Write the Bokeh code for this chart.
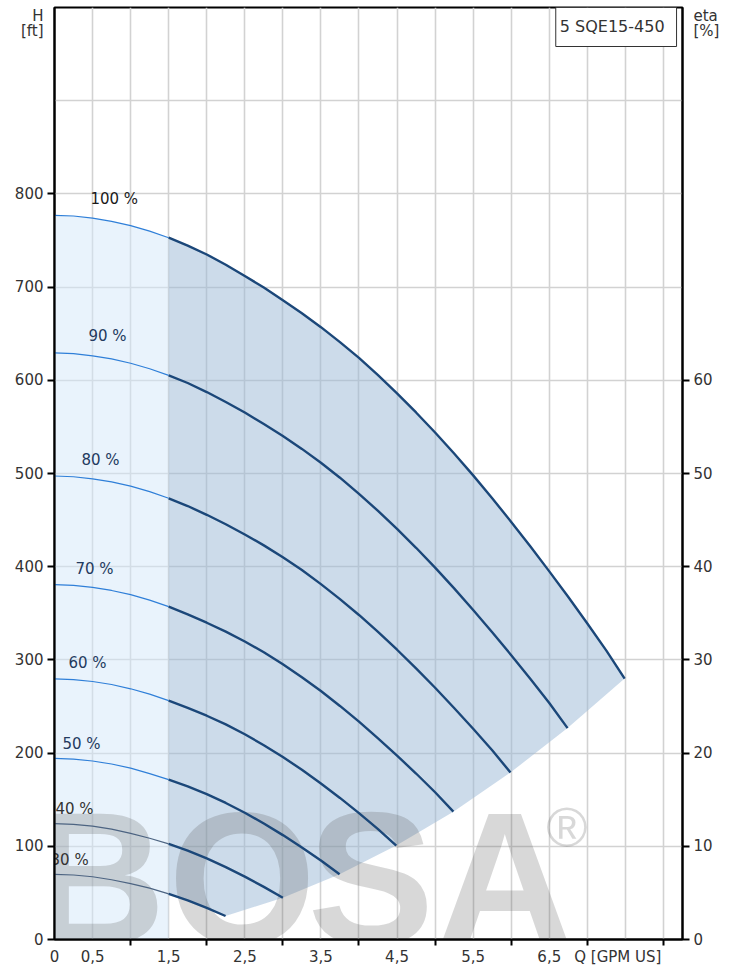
import numpy as np
from bokeh.plotting import figure
from bokeh.models import Range1d, LinearAxis, FixedTicker, Label, ColumnDataSource
from bokeh.core.properties import value
from bokeh.embed import file_html
from bokeh.resources import INLINE

FONT = "DejaVu Sans"

# ---- data (Q in GPM US, H in ft) ----
speeds = ["100 %", "90 %", "80 %", "70 %", "60 %", "50 %", "40 %", "30 %"]
q100 = [0, 0.25, 0.5, 0.75, 1.0, 1.25, 1.5, 1.75, 2.0, 2.25, 2.5, 2.75, 3.0, 3.25, 3.5, 3.75,
        4.0, 4.25, 4.5, 4.75, 5.0, 5.25, 5.5, 5.75, 6.0, 6.25, 6.5, 6.75, 7.0, 7.25, 7.49]
h100 = [777, 776.3, 774, 770.5, 766, 760, 753, 744.5, 735, 724, 712, 699.5, 686, 672, 657, 641,
        624, 605.5, 586, 565.5, 544, 521.5, 498, 473.5, 448, 422, 395, 367.5, 339, 310, 280]
q90 = [0, 0.25, 0.5, 0.75, 1.0, 1.25, 1.5, 1.75, 2.0, 2.25, 2.5, 2.75, 3.0, 3.25, 3.5, 3.75,
       4.0, 4.25, 4.5, 4.75, 5.0, 5.25, 5.5, 5.75, 6.0, 6.25, 6.5, 6.74]
h90 = [629.4, 628.6, 626.3, 622.9, 618.3, 612.4, 605.3, 597.1, 587.4, 576.7, 565.4, 553.1, 540.3,
       526.4, 511.6, 495.5, 478.1, 459.9, 440.6, 420.3, 399.0, 376.7, 353.5, 329.7, 305.1, 279.7,
       253.7, 226.8]
q80 = [0, 0.25, 0.5, 0.75, 1.0, 1.25, 1.5, 1.75, 2.0, 2.25, 2.5, 2.75, 3.0, 3.25, 3.5, 3.75,
       4.0, 4.25, 4.5, 4.75, 5.0, 5.25, 5.5, 5.75, 5.99]
h80 = [497.3, 496.5, 494.2, 491.0, 486.4, 480.6, 473.4, 465.1, 455.7, 445.5, 434.6, 422.9, 410.2,
       396.4, 381.3, 365.2, 348.2, 330.0, 310.9, 290.8, 270.1, 248.4, 226.1, 203.0, 179.2]
q70 = [0, 0.25, 0.5, 0.75, 1.0, 1.25, 1.5, 1.75, 2.0, 2.25, 2.5, 2.75, 3.0, 3.25, 3.5, 3.75,
       4.0, 4.25, 4.5, 4.75, 5.0, 5.24]
h70 = [380.7, 379.9, 377.8, 374.5, 370.0, 364.1, 357.1, 348.9, 339.9, 330.3, 319.7, 308.2, 295.3,
       281.4, 266.6, 250.6, 233.7, 215.9, 197.3, 178.1, 158.0, 137.2]
q60 = [0, 0.25, 0.5, 0.75, 1.0, 1.25, 1.5, 1.75, 2.0, 2.25, 2.5, 2.75, 3.0, 3.25, 3.5, 3.75,
       4.0, 4.25, 4.49]
h60 = [279.7, 278.9, 276.8, 273.6, 269.0, 263.3, 256.3, 248.6, 240.1, 230.8, 220.2, 208.5, 195.8,
       182.1, 167.4, 151.9, 135.6, 118.5, 100.8]
q50 = [0, 0.25, 0.5, 0.75, 1.0, 1.25, 1.5, 1.75, 2.0, 2.25, 2.5, 2.75, 3.0, 3.25, 3.5, 3.745]
h50 = [194.3, 193.5, 191.5, 188.3, 183.8, 178.0, 171.5, 164.3, 156.0, 146.5, 136.0, 124.5, 112.0,
       98.8, 84.8, 70.0]
q40 = [0, 0.25, 0.5, 0.75, 1.0, 1.25, 1.5, 1.75, 2.0, 2.25, 2.5, 2.75, 3.0]
h40 = [124.3, 123.6, 121.6, 118.4, 113.9, 108.6, 102.6, 95.3, 87.0, 77.7, 67.5, 56.5, 44.8]
q30 = [0, 0.25, 0.5, 0.75, 1.0, 1.25, 1.5, 1.75, 2.0, 2.247]
h30 = [69.9, 69.2, 67.3, 64.1, 60.0, 55.1, 49.0, 41.9, 33.9, 25.2]

label_q = [0.472, 0.446, 0.354, 0.276, 0.184, 0.105, 0.013, -0.052]
label_h = [795, 648, 514, 397, 297, 210, 140, 85]

x_tick_vals = [0, 0.5, 1.5, 2.5, 3.5, 4.5, 5.5, 6.5, 7.40]
x_tick_text = ["0", "0,5", "1,5", "2,5", "3,5", "4,5", "5,5", "6,5", "Q [GPM US]"]
x_tick_marks = [1, 2, 3, 4, 5, 6, 7, 8]
x_grid = [0.5, 1, 1.5, 2, 2.5, 3, 3.5, 4, 4.5, 5, 5.5, 6, 6.5, 7, 7.5, 8]
h_ticks = [0, 100, 200, 300, 400, 500, 600, 700, 800]
h_title_pos = [991, 975]
h_title_text = ["H", "[ft]"]
h_grid = [100, 200, 300, 400, 500, 600, 700, 800, 900]
eta_ticks = [0, 10, 20, 30, 40, 50, 60]
eta_title_pos = [99.1, 97.5]
eta_title_text = ["eta", "[%]"]
watermark = ["B", "O", "S", "A"]
watermark_q = [0.564, 2.465, 4.157, 5.915]

curves = [(q100, h100), (q90, h90), (q80, h80), (q70, h70),
          (q60, h60), (q50, h50), (q40, h40), (q30, h30)]
Q_SPLIT = 1.5

# ---- figure ----
p = figure(width=722, height=968, x_range=Range1d(0, 8.25), y_range=Range1d(0, 1000),
           output_backend="svg", toolbar_location=None,
           min_border_left=54, min_border_right=39, min_border_top=7, min_border_bottom=22)
p.extra_y_ranges = {"eta": Range1d(0, 100)}
p.background_fill_color = "white"
p.outline_line_color = "black"
p.outline_line_width = 2

p.xgrid.ticker = FixedTicker(ticks=x_grid)
p.ygrid.ticker = FixedTicker(ticks=h_grid)
for g in (p.xgrid, p.ygrid):
    g.grid_line_color = "#d2d2d2"
    g.grid_line_width = 1.6

# fills
qa, ha = np.array(q100), np.array(h100)
m_left = qa <= Q_SPLIT
light_x = [0] + list(qa[m_left]) + [Q_SPLIT]
light_y = [0] + list(ha[m_left]) + [0]
p.patch(light_x, light_y, fill_color="#d3e7fa", fill_alpha=0.5, line_color=None)

m_right = qa >= Q_SPLIT
end_q = [c[0][-1] for c in curves[1:]]
end_h = [c[1][-1] for c in curves[1:]]
q3, h3 = np.array(q30), np.array(h30)
m3 = (q3 >= Q_SPLIT) & (q3 < q30[-1])
dark_x = list(qa[m_right]) + end_q + list(q3[m3][::-1])
dark_y = list(ha[m_right]) + end_h + list(h3[m3][::-1])
p.patch(dark_x, dark_y, fill_color="#9dbad6", fill_alpha=0.52, line_color=None)

# watermark
p.text(x=watermark_q, y=[66] * len(watermark), text=watermark,
       text_font=value("Liberation Sans"), text_font_style="bold", text_font_size="190px",
       text_color="#5a5a5a", text_alpha=0.24, text_align="center", text_baseline="alphabetic")
p.text(x=[6.73], y=[120], text=["®"], text_font=value("Liberation Sans"),
       text_font_size="56px", text_color="#5a5a5a", text_alpha=0.24,
       text_align="center", text_baseline="middle")

# curves
thin_colors = ["#2f7fd8"] * 6 + ["#4d6482", "#4d6482"]
for (q, h), tc in zip(curves, thin_colors):
    q = np.array(q); h = np.array(h)
    ml = q <= Q_SPLIT
    mr = q >= Q_SPLIT
    p.line(q[ml], h[ml], line_color=tc, line_width=1.2)
    p.line(q[mr], h[mr], line_color="#1b4779", line_width=2.4, line_join="round")

# curve labels
lab_colors = ["#1a1a1a"] + ["#233a5e"] * 5 + ["#333333", "#333333"]
src = ColumnDataSource(dict(x=label_q, y=label_h, t=speeds, c=lab_colors))
p.text(x="x", y="y", text="t", source=src, text_color="c", text_font=value(FONT),
       text_font_size="15px", text_align="left", text_baseline="middle")

# axes
xa = p.xaxis[0]
xa.ticker = FixedTicker(ticks=x_tick_vals, minor_ticks=x_tick_marks)
xa.major_label_overrides = {v: t for v, t in zip(x_tick_vals, x_tick_text)}
xa.major_tick_out = 6
xa.major_label_standoff = 2

ya = p.yaxis[0]
ya.ticker = FixedTicker(ticks=h_ticks + h_title_pos, minor_ticks=h_ticks)
ya.major_label_overrides = {v: t for v, t in zip(h_title_pos, h_title_text)}

ra = LinearAxis(y_range_name="eta",
                ticker=FixedTicker(ticks=eta_ticks + eta_title_pos, minor_ticks=eta_ticks))
ra.major_label_overrides = {v: t for v, t in zip(eta_title_pos, eta_title_text)}
p.add_layout(ra, "right")

for ax in (xa, ya, ra):
    ax.axis_line_color = "black"
    ax.axis_line_width = 2
    ax.major_label_text_font = FONT
    ax.major_label_text_font_size = "15px"
    ax.major_label_text_color = "#333333"
    ax.major_tick_line_color = None
    ax.minor_tick_in = 0
    ax.minor_tick_line_width = 2
    ax.minor_tick_line_color = "black"
for ax in (ya, ra):
    ax.major_tick_out = 7
    ax.minor_tick_out = 7
    ax.major_label_standoff = 4
xa.minor_tick_out = 6

# model box
p.add_layout(Label(x=6.585, y=1000, text="5 SQE15-450", text_font=FONT, text_font_size="16px",
                   text_color="#333333", text_align="left", text_baseline="top",
                   background_fill_color="white", border_line_color="#333333",
                   border_line_width=1, padding=(4, 12, 9, 11)))

open("out.html", "w").write(file_html(p, INLINE))
